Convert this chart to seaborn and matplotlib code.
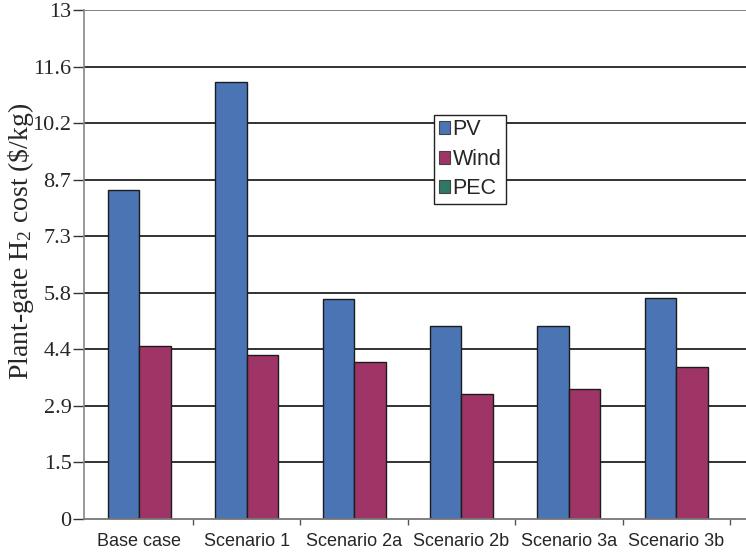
import numpy as np
import pandas as pd
import matplotlib
matplotlib.use("Agg")
import matplotlib.pyplot as plt
from matplotlib.patches import Patch
import seaborn as sns

scenarios = ["Base case", "Scenario 1", "Scenario 2a", "Scenario 2b", "Scenario 3a", "Scenario 3b"]
pv_cost = [8.40, 11.16, 5.63, 4.93, 4.93, 5.64]
wind_cost = [4.42, 4.20, 4.01, 3.19, 3.32, 3.88]
sources = ["PV", "Wind", "PEC"]
colors = ["#4a74b3", "#9e3566", "#2f7767"]
ytick_labels = ["0", "1.5", "2.9", "4.4", "5.8", "7.3", "8.7", "10.2", "11.6", "13"]

df = pd.DataFrame({
    "scenario": scenarios * 2,
    "cost": pv_cost + wind_cost,
    "source": ["PV"] * len(scenarios) + ["Wind"] * len(scenarios),
})

sns.set_style("white")
plt.rcParams["mathtext.fontset"] = "custom"
plt.rcParams["mathtext.rm"] = "Liberation Serif"
plt.rcParams["mathtext.it"] = "Liberation Serif:italic"

fig = plt.figure(figsize=(7.46, 5.53), dpi=100)
ax = fig.add_axes([84 / 746, 34 / 553, 662 / 746, 509 / 553])

sns.barplot(data=df, x="scenario", y="cost", hue="source", order=scenarios,
            hue_order=["PV", "Wind"], palette=colors[:2], width=0.587,
            edgecolor="#1c1c1c", linewidth=1.0, saturation=1, ax=ax, legend=False)

ax.set_axisbelow(True)
ax.set_ylim(0, 13)
ax.set_xlim(-0.515, 5.65)
yt = np.linspace(0, 13, 10)
ax.set_yticks(yt)
ax.set_yticklabels(ytick_labels, fontfamily="Liberation Serif", fontsize=16)
for y in yt[1:-1]:
    ax.axhline(y, color="#222222", lw=1.3, zorder=0)
ax.axhline(13, color="#777777", lw=1.3, zorder=0)

ax.tick_params(axis="y", length=8, width=1, color="#333333", pad=1, left=True)
ax.set_xticks(range(len(scenarios)))
ax.set_xticklabels(scenarios, fontfamily="Liberation Sans", fontsize=13)
ax.tick_params(axis="x", length=0, pad=10)
ax.set_xticks(np.arange(0.5, 6, 1), minor=True)
ax.tick_params(axis="x", which="minor", length=4, width=1, color="#555555", bottom=True)

for s in ["top", "right"]:
    ax.spines[s].set_visible(False)
ax.spines["left"].set_color("#888888")
ax.spines["bottom"].set_color("#777777")
ax.spines["left"].set_linewidth(1.2)
ax.spines["bottom"].set_linewidth(1.3)

ax.set_xlabel("")
ax.set_ylabel(r"Plant-gate H$_2$ cost (\$/kg)", fontfamily="Liberation Serif", fontsize=20)
ax.yaxis.set_label_coords(-0.072, 0.546)

handles = [Patch(facecolor=c, edgecolor="#444444", lw=0.8) for c in colors]
leg = ax.legend(handles, sources, loc="upper left", bbox_to_anchor=(0.529, 0.794),
                frameon=True, fancybox=False, edgecolor="#222222", framealpha=1,
                prop={"family": "Liberation Sans", "size": 15.5},
                handlelength=0.55, handleheight=0.55, handletextpad=0.1,
                labelspacing=0.4, borderpad=0.2, borderaxespad=0)
leg.get_frame().set_linewidth(1.0)

fig.savefig("out.png", dpi=100)
